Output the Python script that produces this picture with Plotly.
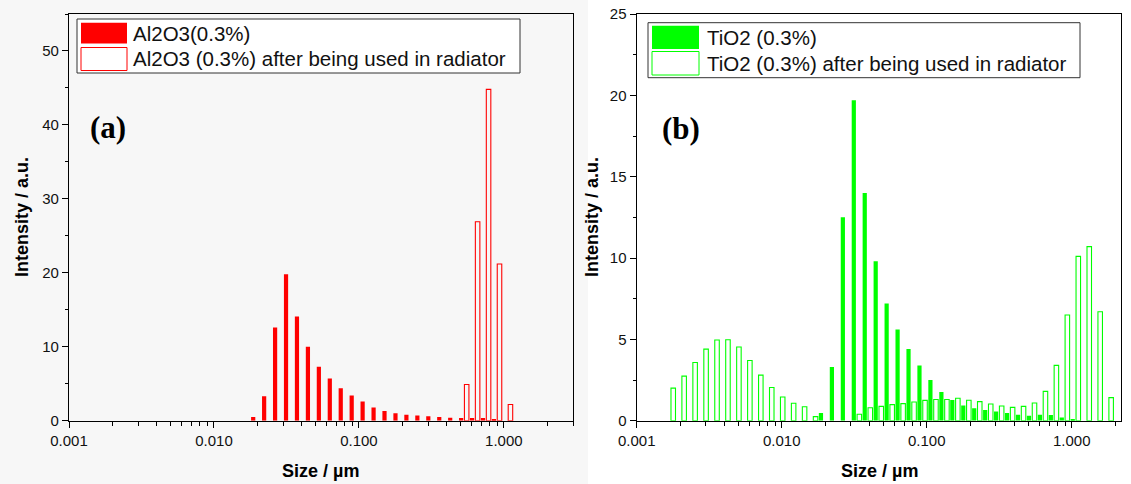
import plotly.graph_objects as go

W, H = 1131, 484

# Particle size bins (um), shared by both panels
SIZE_UM = [0.001710, 0.002034, 0.002421, 0.002881, 0.003428, 0.004078, 0.004853,
           0.005774, 0.006871, 0.008175, 0.009727, 0.01157, 0.01377, 0.01639,
           0.01950, 0.02320, 0.02761, 0.03285, 0.03908, 0.04651, 0.05534,
           0.06584, 0.07834, 0.09322, 0.1109, 0.1320, 0.1570, 0.1869, 0.2223,
           0.2646, 0.3148, 0.3746, 0.4457, 0.5303, 0.6310, 0.7508, 0.8933,
           1.063, 1.265, 1.505, 1.791]

# Panel (a) Al2O3
AL_FRESH = [0, 0, 0, 0, 0, 0, 0, 0, 0, 0, 0, 0, 0, 0,
            0.5, 3.3, 12.6, 19.8, 14.1, 10.0, 7.3, 5.7, 4.4, 3.4, 2.6, 1.8, 1.3,
            1.0, 0.8, 0.7, 0.6, 0.5, 0.4, 0.35, 0.35, 0.35, 0.15, 0, 0, 0, 0]
AL_USED = [0, 0, 0, 0, 0, 0, 0, 0, 0, 0, 0, 0, 0, 0,
           0, 0, 0, 0, 0, 0, 0, 0, 0, 0, 0, 0, 0, 0, 0, 0, 0, 0, 0,
           4.9, 26.9, 44.8, 21.2, 2.2, 0, 0, 0]

# Panel (b) TiO2
TI_FRESH = [0, 0, 0, 0, 0, 0, 0, 0, 0, 0, 0, 0, 0, 0,
            0.47, 3.3, 12.5, 19.7, 14.0, 9.8, 7.2, 5.6, 4.4, 3.4, 2.5, 1.77, 1.28,
            0.93, 0.76, 0.66, 0.56, 0.47, 0.37, 0.31, 0.37, 0.35, 0.19, 0.08, 0, 0, 0]
TI_USED = [2.0, 2.74, 3.58, 4.4, 4.96, 4.98, 4.53, 3.7, 2.8, 2.04, 1.46, 1.07, 0.86, 0.25,
           0, 0, 0,
           0.4, 0.8, 0.88, 0.99, 1.05, 1.15, 1.25, 1.3, 1.3, 1.38, 1.26, 1.17, 1.03,
           0.9, 0.82, 0.88, 1.09, 1.8, 3.4, 6.5, 10.1, 10.7, 6.7, 1.42]

X_TICKS = [0.001, 0.01, 0.1, 1.0]
X_TICKTEXT = ["0.001", "0.010", "0.100", "1.000"]
YA_TICKS = [0, 10, 20, 30, 40, 50]
YB_TICKS = [0, 5, 10, 15, 20, 25]

LEG_A = ["Al2O3(0.3%)", "Al2O3 (0.3%) after being used in radiator"]
LEG_B = ["TiO2 (0.3%)", "TiO2 (0.3%) after being used in radiator"]

RED = "#ff0000"
GREEN = "#00ff00"

# bar extent within each log bin (in decades, relative to bin centre)
FILLED_SPAN = (-0.0338, -0.0048)
OUTLINE_SPAN = (0.0034, 0.0345)


def bars(vals, span):
    xs = [s for s, v in zip(SIZE_UM, vals) if v > 0]
    ys = [v for v in vals if v > 0]
    a, b = span
    offs = [s * 10 ** a - s for s in xs]
    wids = [s * (10 ** b - 10 ** a) for s in xs]
    return xs, ys, offs, wids


def px(x):
    return x / W


def py(y):
    return 1 - y / H


fig = go.Figure()

for vals, color, filled, xa, ya in [
    (AL_FRESH, RED, True, "x", "y"),
    (AL_USED, RED, False, "x", "y"),
    (TI_FRESH, GREEN, True, "x2", "y2"),
    (TI_USED, GREEN, False, "x2", "y2"),
]:
    xs, ys, offs, wids = bars(vals, FILLED_SPAN if filled else OUTLINE_SPAN)
    fig.add_trace(go.Bar(
        x=xs, y=ys, offset=offs, width=wids, xaxis=xa, yaxis=ya, showlegend=False,
        marker=dict(color=color if filled else "rgba(255,255,255,0)",
                    line=dict(color=color, width=0 if filled else 1.1)),
    ))

minor_vals = [m * 10 ** e for e in range(-3, 1) for m in range(2, 10)]

font_tick = dict(family="Liberation Sans, Arial, sans-serif", size=15, color="#111")

common_x = dict(type="log", tickmode="array", tickvals=X_TICKS, ticktext=X_TICKTEXT,
                ticks="outside", ticklen=6, tickwidth=1.3, tickcolor="black",
                showline=True, linecolor="black", linewidth=1.3, mirror=True,
                showgrid=False, zeroline=False, tickfont=font_tick,
                minor=dict(tickmode="array", tickvals=minor_vals, ticks="outside",
                           ticklen=4, tickwidth=1, tickcolor="black", showgrid=False))
common_y = dict(ticks="outside", ticklen=6, tickwidth=1.3, tickcolor="black",
                showline=True, linecolor="black", linewidth=1.3, mirror=True,
                showgrid=False, zeroline=False, tickfont=font_tick, tickmode="array")

y_lo, y_hi = py(420.7), py(14)

fig.update_layout(
    width=W, height=H, margin=dict(l=0, r=0, t=0, b=0, pad=0, autoexpand=False),
    paper_bgcolor="white", plot_bgcolor="rgba(0,0,0,0)",
    barmode="overlay",
    xaxis=dict(domain=[px(69), px(573)], range=[-3, 0.477], anchor="y", **common_x),
    xaxis2=dict(domain=[px(636.7), px(1121)], range=[-3, 0.34], anchor="y2", **common_x),
    yaxis=dict(domain=[y_lo, y_hi], range=[0, 55], anchor="x", tickvals=YA_TICKS,
               minor=dict(dtick=5, ticks="outside", ticklen=3, tickcolor="black"),
               **common_y),
    yaxis2=dict(domain=[y_lo, y_hi], range=[0, 25], anchor="x2", tickvals=YB_TICKS,
                minor=dict(dtick=2.5, ticks="outside", ticklen=3, tickcolor="black"),
                **common_y),
)

shapes = [
    dict(type="rect", xref="paper", yref="paper", x0=0, x1=px(588), y0=0, y1=1,
         fillcolor="#f7f7f7", line=dict(width=0), layer="below"),
]
annotations = []

title_font = dict(family="Liberation Sans, Arial, sans-serif", size=18, color="black")


def legend(box, sw_x, rows, text_x, color, labels):
    x0, x1, y0, y1 = box
    shapes.append(dict(type="rect", xref="paper", yref="paper", x0=px(x0), x1=px(x1),
                       y0=py(y1), y1=py(y0), line=dict(color="#333", width=1),
                       fillcolor="white", layer="above"))
    for i, (r0, r1) in enumerate(rows):
        shapes.append(dict(type="rect", xref="paper", yref="paper",
                           x0=px(sw_x[0]), x1=px(sw_x[1]), y0=py(r1), y1=py(r0),
                           fillcolor=color if i == 0 else "white",
                           line=dict(color=color, width=1 if i == 1 else 0)))
        annotations.append(dict(xref="paper", yref="paper", x=px(text_x), y=py((r0 + r1) / 2),
                                text=labels[i], showarrow=False, xanchor="left",
                                yanchor="middle",
                                font=dict(family="Liberation Sans, Arial, sans-serif",
                                          size=20.5, color="#111")))


legend((77, 520, 19, 73), (81, 127), [(22.7, 43.5), (47.5, 70.5)], 131, RED, LEG_A)
legend((648, 1080, 22.7, 77.7), (652, 699), [(25.7, 49), (51.5, 75)], 705, GREEN, LEG_B)

for x, y, t in [(88, 127, "(a)"), (660, 128, "(b)")]:
    annotations.append(dict(xref="paper", yref="paper", x=px(x), y=py(y), text="<b>%s</b>" % t,
                            showarrow=False, xanchor="left", yanchor="middle",
                            font=dict(family="Liberation Serif, Times New Roman, serif",
                                      size=31, color="black")))

for xc in [321, 879]:
    annotations.append(dict(xref="paper", yref="paper", x=px(xc), y=py(471),
                            text="<b>Size / \u00b5m</b>", showarrow=False,
                            xanchor="center", yanchor="middle", font=title_font))
for xc in [22, 592]:
    annotations.append(dict(xref="paper", yref="paper", x=px(xc), y=py(217),
                            text="<b>Intensity / a.u.</b>", showarrow=False, textangle=-90,
                            xanchor="center", yanchor="middle", font=title_font))

fig.update_layout(shapes=shapes, annotations=annotations)

fig.write_html("out.html", config={"displayModeBar": False},
               post_script="document.body.style.margin='0';")
